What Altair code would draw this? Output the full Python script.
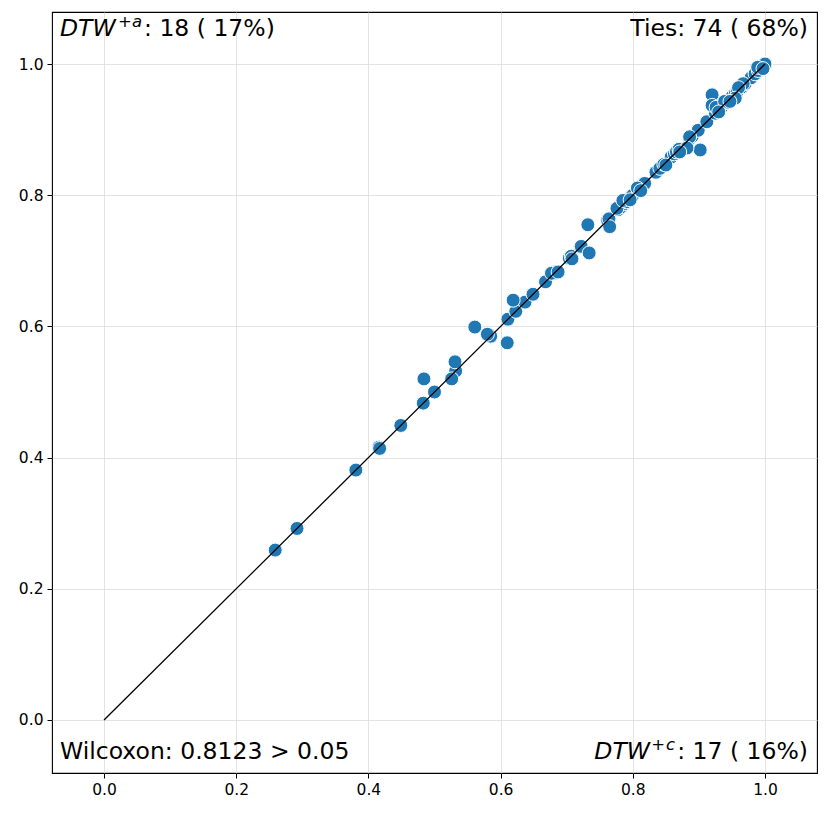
import altair as alt
import pandas as pd

# ---- data ----
tie_vals = [0.259, 0.292, 0.381, 0.416, 0.416, 0.449, 0.483, 0.500, 0.532, 0.585,
            0.585, 0.611, 0.623, 0.637, 0.649, 0.668, 0.681, 0.683, 0.704, 0.707,
            0.721, 0.722, 0.762, 0.764, 0.778, 0.782, 0.787, 0.790, 0.797, 0.800,
            0.808, 0.811, 0.815, 0.818, 0.835, 0.841, 0.847, 0.858, 0.863, 0.866,
            0.870, 0.886, 0.890, 0.899, 0.912, 0.925, 0.935, 0.941, 0.945, 0.950,
            0.955, 0.958, 0.965, 0.970, 0.979, 0.985, 0.990, 0.995, 0.997,
            1.0, 1.0, 1.0, 1.0, 1.0, 1.0, 1.0, 1.0, 1.0, 1.0, 1.0, 1.0, 1.0, 1.0, 1.0]
above_x = [0.484, 0.531, 0.561, 0.619, 0.732, 0.920, 0.920, 0.776, 0.785, 0.926,
           0.939, 0.989, 0.580, 0.677, 0.886, 0.967, 0.960, 0.807]
above_y = [0.520, 0.546, 0.599, 0.640, 0.755, 0.953, 0.937, 0.780, 0.792, 0.934,
           0.943, 0.995, 0.588, 0.681, 0.889, 0.970, 0.964, 0.811]
below_x = [0.610, 0.526, 0.734, 0.765, 0.902, 0.882, 0.850, 0.955, 0.947, 0.687,
           0.708, 0.871, 0.930, 0.812, 0.796, 0.997, 0.417]
below_y = [0.575, 0.520, 0.712, 0.752, 0.869, 0.872, 0.846, 0.948, 0.943, 0.683,
           0.703, 0.866, 0.927, 0.807, 0.793, 0.993, 0.414]
diag = [0.0, 1.0]
x_ticks = [0.0, 0.2, 0.4, 0.6, 0.8, 1.0]
x_domain = [-0.0787, 1.0787]
y_domain = [-0.0808, 1.0793]

pts = pd.DataFrame({
    "x": tie_vals + above_x + below_x,
    "y": tie_vals + above_y + below_y,
})
line_df = pd.DataFrame({"x": diag, "y": diag})

W, H = 765, 761
FONT = "DejaVu Sans"
FS = 23.5
FS_SUP = 16.5

xs = alt.Scale(domain=x_domain, nice=False, zero=False)
ys = alt.Scale(domain=y_domain, nice=False, zero=False)

xaxis = alt.Axis(values=x_ticks, format=".1f", title=None, grid=True, domain=False)
yaxis = alt.Axis(values=x_ticks, format=".1f", title=None, grid=True, domain=False)

points = alt.Chart(pts).mark_point(
    shape="circle", filled=True, color="#1f77b4", opacity=1,
    stroke="white", strokeWidth=1, size=195,
).encode(
    x=alt.X("x:Q", scale=xs, axis=xaxis),
    y=alt.Y("y:Q", scale=ys, axis=yaxis),
)

line = alt.Chart(line_df).mark_line(color="black", strokeWidth=1.3).encode(
    x=alt.X("x:Q", scale=xs),
    y=alt.Y("y:Q", scale=ys),
)


def label(text, px, py, align="left", italic=False, size=FS):
    return alt.Chart(pd.DataFrame({"t": [text]})).mark_text(
        align=align, baseline="alphabetic", font=FONT, fontSize=size,
        fontStyle="italic" if italic else "normal", color="black",
    ).encode(x=alt.value(px), y=alt.value(py), text="t:N")


TOP_BL = 24
BOT_BL = 747
RAISE = 9
texts = [
    # top-left: DTW^{+a}: 18 ( 17%)
    label("DTW", 8, TOP_BL, italic=True),
    label("+", 66, TOP_BL - RAISE, size=FS_SUP),
    label("a", 80, TOP_BL - RAISE, italic=True, size=FS_SUP),
    label(": 18 ( 17%)", 92, TOP_BL),
    # top-right
    label("Ties: 74 ( 68%)", 756, TOP_BL, align="right"),
    # bottom-left
    label("Wilcoxon: 0.8123 > 0.05", 8, BOT_BL),
    # bottom-right: DTW^{+c}: 17 ( 16%)
    label(": 17 ( 16%)", 756, BOT_BL, align="right"),
    label("c", 623, BOT_BL - RAISE, align="right", italic=True, size=FS_SUP),
    label("+", 613, BOT_BL - RAISE, align="right", size=FS_SUP),
    label("DTW", 598, BOT_BL, align="right", italic=True),
]

chart = alt.layer(points, line, *texts).properties(
    width=W, height=H,
    padding={"left": 10, "top": 4, "right": 4, "bottom": 4},
).configure_view(
    stroke="black", strokeWidth=1.1,
).configure_axis(
    labelFont=FONT, labelFontSize=15.5, labelColor="black",
    tickColor="black", tickSize=5, labelPadding=4,
    gridColor="#dcdcdc", gridWidth=0.8,
)

chart.save("out.html", embed_options={"renderer": "svg", "actions": False})
